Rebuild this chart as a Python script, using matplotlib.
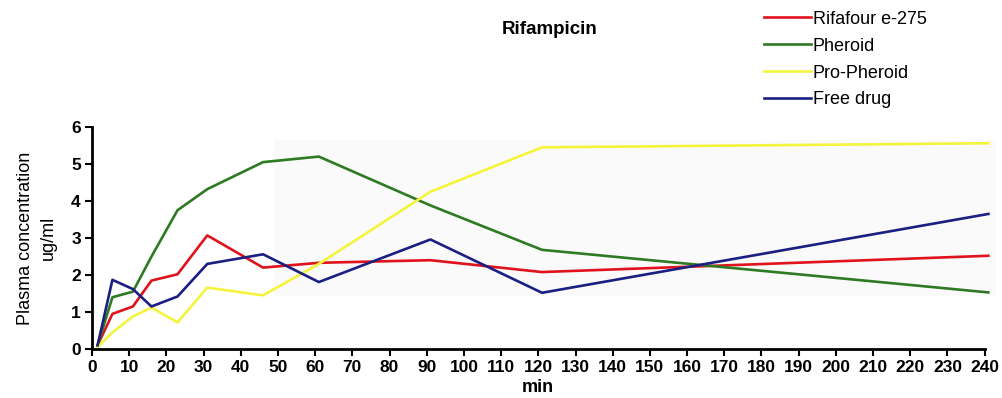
import matplotlib
matplotlib.use("Agg")
import matplotlib.pyplot as plt
import matplotlib.patches as mpatches

plt.rcParams['font.family'] = ['Liberation Sans', 'DejaVu Sans']

# sampling times (min) and plasma levels (ug/ml)
times = [1.5, 5.5, 11, 16, 23, 31, 46, 61, 91, 121, 241]
rifafour = [0.1, 0.95, 1.15, 1.85, 2.02, 3.07, 2.2, 2.33, 2.4, 2.08, 2.52]
pheroid = [0.1, 1.4, 1.55, 2.5, 3.75, 4.32, 5.05, 5.2, 3.88, 2.68, 1.53]
pro_pheroid = [0.05, 0.45, 0.88, 1.12, 0.72, 1.66, 1.45, 2.3, 4.25, 5.45, 5.56]
free_drug = [0.1, 1.87, 1.62, 1.15, 1.42, 2.3, 2.56, 1.81, 2.96, 1.52, 3.65]

labels = ['Rifafour e-275', 'Pheroid', 'Pro-Pheroid', 'Free drug']
colors = ['#e0121c', '#2d7a22', '#f4f43c', '#1b1f82']
x_ticks = list(range(0, 250, 10))
y_ticks = [0, 1, 2, 3, 4, 5, 6]

fig = plt.figure(figsize=(10.03, 3.98), dpi=100)
ax = fig.add_axes([0.0917, 0.123, 0.890, 0.558])

# faint shaded panel behind the later part of the curves
ax.add_patch(mpatches.Rectangle((49, 1.42), 194, 4.22, facecolor='#fafafa',
                                edgecolor='none', zorder=0, clip_on=False))

lines = []
for series, c, lab in zip([rifafour, pheroid, pro_pheroid, free_drug], colors, labels):
    ln, = ax.plot(times, series, color=c, lw=1.9, label=lab, zorder=2,
                  clip_on=False)
    lines.append(ln)

ax.set_xlim(0, 240)
ax.set_ylim(0, 6)
ax.set_xticks(x_ticks)
ax.set_yticks(y_ticks)
ax.tick_params(direction='out', length=5, width=1.5, labelsize=12.5, pad=3)
for t in ax.get_xticklabels() + ax.get_yticklabels():
    t.set_fontweight('bold')

for side in ['top', 'right']:
    ax.spines[side].set_visible(False)
for side in ['left', 'bottom']:
    ax.spines[side].set_linewidth(2)

ax.set_xlabel('min', fontsize=13, fontweight='bold', labelpad=3)
ax.set_ylabel('Plasma concentration\nug/ml', fontsize=13, linespacing=1.5,
              labelpad=10)

fig.text(0.548, 0.925, 'Rifampicin', ha='center', va='center',
         fontsize=13.5, fontweight='bold')

fig.legend(handles=lines, loc='upper left', bbox_to_anchor=(0.749, 1.005),
           frameon=False, fontsize=13, handlelength=2.6, handletextpad=0.1,
           labelspacing=0.55, borderaxespad=0.3)

fig.savefig('out.png', dpi=100)
